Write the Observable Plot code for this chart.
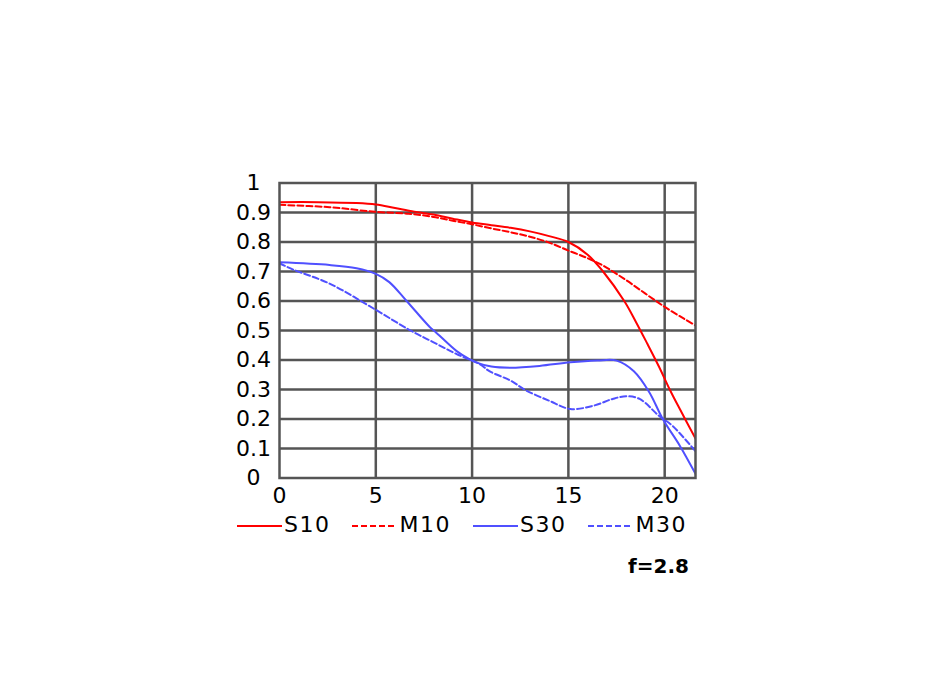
<!DOCTYPE html>
<html>
<head>
<meta charset="utf-8">
<script src="https://cdn.jsdelivr.net/npm/d3@7"></script>
<script src="https://cdn.jsdelivr.net/npm/@observablehq/plot@0.6"></script>
<style>
  html, body { margin: 0; padding: 0; background: #fff; }
  #wrap { position: relative; width: 932px; height: 700px; overflow: hidden; background: #fff; }
  #chart { position: absolute; left: 0; top: 0; }
  #legend { position: absolute; left: 237px; top: 514px; display: flex; align-items: center;
            font-family: "DejaVu Sans", sans-serif; font-size: 22px; line-height: 22px; color: #000; }
  .item { display: flex; align-items: center; margin-right: 22px; height: 22px; }
  .item svg { margin-top: 2px; margin-right: 2px; }
  .item span { letter-spacing: 1.5px; }
  #fnum { position: absolute; right: calc(932px - 689px); top: 556px; font-family: "DejaVu Sans", sans-serif;
          font-weight: bold; font-size: 20px; line-height: 20px; color: #000; }
</style>
</head>
<body>
<div id="wrap">
  <div id="chart"></div>
  <div id="legend"></div>
  <div id="fnum">f=2.8</div>
</div>
<script>
// ---- data ----
const xTicks = [0, 5, 10, 15, 20];
const yTicks = [0, 0.1, 0.2, 0.3, 0.4, 0.5, 0.6, 0.7, 0.8, 0.9, 1];
const xDomain = [0, 21.6];

const s10X = [0, 2, 4, 5, 6, 7, 8, 9, 10, 11, 12, 13, 14, 15, 16, 16.8, 17.9, 18.5, 19.1, 19.7, 20.3, 20.8, 21.6];
const s10Y = [0.935, 0.935, 0.932, 0.927, 0.915, 0.903, 0.893, 0.879, 0.866, 0.857, 0.848, 0.836, 0.82, 0.8, 0.757, 0.7, 0.6, 0.53, 0.455, 0.378, 0.295, 0.232, 0.134];

const m10X = [0, 2.6, 5, 6.7, 8, 9, 10, 11, 12, 13, 14, 15, 16, 16.8, 17.9, 19, 20, 21, 21.6];
const m10Y = [0.926, 0.918, 0.902, 0.896, 0.885, 0.872, 0.86, 0.846, 0.833, 0.818, 0.798, 0.771, 0.745, 0.72, 0.675, 0.625, 0.58, 0.54, 0.517];

const s30X = [0, 2.6, 4, 5, 5.7, 6.6, 7.8, 8.1, 9.2, 9.8, 10.2, 11, 12, 13.5, 15.1, 16.5, 17.5, 18.4, 19.2, 19.9, 20.8, 21.6];
const s30Y = [0.731, 0.722, 0.711, 0.692, 0.664, 0.6, 0.512, 0.495, 0.43, 0.405, 0.392, 0.378, 0.374, 0.38, 0.392, 0.398, 0.398, 0.362, 0.291, 0.2, 0.108, 0.014];

const m30X = [0, 0.73, 2.6, 5, 6.8, 8, 9.2, 10.4, 10.9, 12, 12.8, 14, 15.1, 16.3, 17.3, 18, 18.7, 19.7, 20.4, 21.6];
const m30Y = [0.728, 0.706, 0.659, 0.57, 0.5, 0.46, 0.42, 0.386, 0.362, 0.33, 0.297, 0.262, 0.234, 0.245, 0.268, 0.277, 0.268, 0.211, 0.177, 0.091];

const seriesNames = ["S10", "M10", "S30", "M30"];
const seriesColors = ["#ff0000", "#ff0000", "#5050ff", "#5050ff"];
const seriesDash = [null, "6,3", null, "6,3"];

// ---- build ----
const toRows = (xs, ys) => xs.map((x, i) => ({x, y: ys[i]}));
const seriesData = [toRows(s10X, s10Y), toRows(m10X, m10Y), toRows(s30X, s30Y), toRows(m30X, m30Y)];

const gridColor = "#555";
const chart = Plot.plot({
  width: 932,
  height: 700,
  marginLeft: 279,
  marginRight: 237,
  marginTop: 182.5,
  marginBottom: 222.5,
  style: {fontFamily: "DejaVu Sans, sans-serif", fontSize: "22px", color: "#000", background: "#fff", overflow: "visible"},
  x: {domain: xDomain, label: null},
  y: {domain: [0, 1], label: null},
  marks: [
    Plot.ruleX(xTicks.filter(d => d > 0), {stroke: gridColor, strokeWidth: 2.5, strokeOpacity: 1}),
    Plot.ruleY(yTicks.filter(d => d > 0 && d < 1), {stroke: gridColor, strokeWidth: 2.5, strokeOpacity: 1}),
    ...seriesData.map((rows, i) => Plot.line(rows, {
      x: "x", y: "y", curve: "catmull-rom",
      stroke: seriesColors[i], strokeWidth: 2,
      strokeDasharray: seriesDash[i] || undefined,
      clip: true
    })),
    Plot.frame({stroke: gridColor, strokeWidth: 2.5}),
    Plot.axisY({ticks: yTicks, tickSize: 0, tickPadding: 26, textAnchor: "middle", label: null, tickFormat: d => String(d)}),
    Plot.axisX({ticks: xTicks, tickSize: 0, tickPadding: 9, label: null, tickFormat: d => String(d)})
  ]
});
document.getElementById("chart").appendChild(chart);

// ---- legend ----
const legend = document.getElementById("legend");
seriesNames.forEach((name, i) => {
  const item = document.createElement("div");
  item.className = "item";
  const ns = "http://www.w3.org/2000/svg";
  const svg = document.createElementNS(ns, "svg");
  svg.setAttribute("width", 45);
  svg.setAttribute("height", 4);
  const ln = document.createElementNS(ns, "line");
  ln.setAttribute("x1", 0); ln.setAttribute("x2", 45);
  ln.setAttribute("y1", 2); ln.setAttribute("y2", 2);
  ln.setAttribute("stroke", seriesColors[i]);
  ln.setAttribute("stroke-width", 2);
  if (seriesDash[i]) ln.setAttribute("stroke-dasharray", seriesDash[i]);
  svg.appendChild(ln);
  const sp = document.createElement("span");
  sp.textContent = name;
  item.appendChild(svg);
  item.appendChild(sp);
  legend.appendChild(item);
});
</script>
</body>
</html>
